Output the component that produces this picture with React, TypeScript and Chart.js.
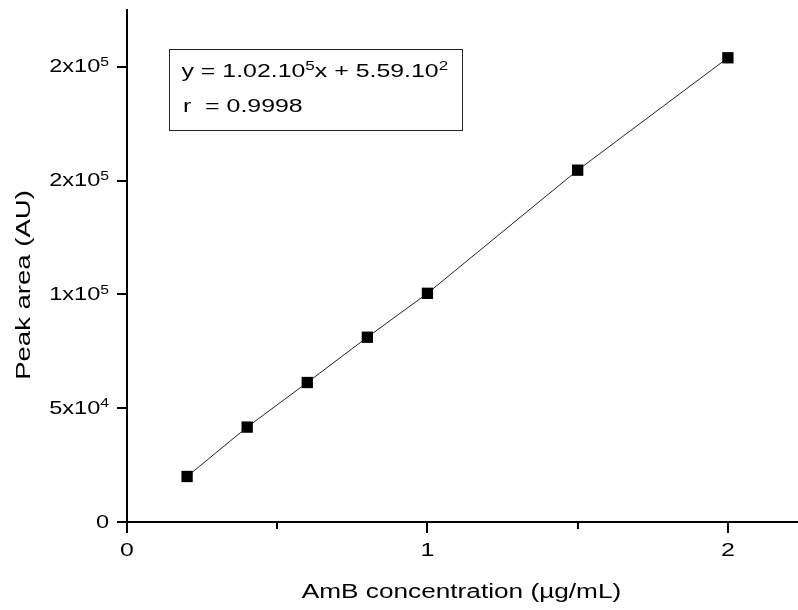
import React, { useEffect, useRef } from 'react';
import { Chart, registerables } from 'chart.js';

Chart.register(...registerables);

// ---- data ----
const concentrations = [0.2, 0.4, 0.6, 0.8, 1.0, 1.5, 2.0];
const peakAreas = [20000, 41700, 61300, 81200, 100500, 154600, 204000];

// ---- axes / labels ----
const xMin = 0;
const xMax = 2.23;
const yMin = 0;
const yMax = 225000;
const xTickValues = [0, 1, 2];
const xTickLabels = ['0', '1', '2'];
const xMinorTickValues = [0.5, 1.5];
const yTickValues = [0, 50000, 100000, 150000, 200000];
const yTickMantissas = ['0', '5x10', '1x10', '2x10', '2x10'];
const yTickExponents = ['', '4', '5', '5', '5'];
const xTitle = 'AmB concentration (µg/mL)';
const yTitle = 'Peak area (AU)';
const equationRuns: [string, boolean][] = [
  ['y = 1.02.10', false],
  ['5', true],
  ['x + 5.59.10', false],
  ['2', true],
];
const rRuns: [string, boolean][] = [['r  = 0.9998', false]];

const FONT = '"Liberation Sans", Arial, Helvetica, sans-serif';
const SX = 1.31; // horizontal stretch of the original glyphs
const INK = '#000';

function runsWidth(ctx: CanvasRenderingContext2D, runs: [string, boolean][], size: number, supSize: number) {
  let w = 0;
  for (const [t, sup] of runs) {
    ctx.font = `${sup ? supSize : size}px ${FONT}`;
    w += ctx.measureText(t).width * SX;
  }
  return w;
}

function drawRuns(ctx: CanvasRenderingContext2D, runs: [string, boolean][], x: number, y: number, size: number, supSize: number) {
  let cx = x;
  for (const [t, sup] of runs) {
    const fs = sup ? supSize : size;
    ctx.font = `${fs}px ${FONT}`;
    const w = ctx.measureText(t).width;
    const dy = sup ? -(size * 0.716 - supSize * 0.716) - 2 : 0;
    ctx.save();
    ctx.translate(cx, y + dy);
    ctx.scale(SX, 1);
    ctx.textAlign = 'left';
    ctx.textBaseline = 'alphabetic';
    ctx.fillStyle = INK;
    ctx.fillText(t, 0, 0);
    ctx.restore();
    cx += w * SX;
  }
}

function drawCentered(ctx: CanvasRenderingContext2D, text: string, x: number, y: number, size: number, rotate = 0) {
  ctx.save();
  ctx.translate(x, y);
  if (rotate) ctx.rotate(rotate);
  ctx.scale(SX, 1);
  ctx.font = `${size}px ${FONT}`;
  ctx.textAlign = 'center';
  ctx.textBaseline = 'alphabetic';
  ctx.fillStyle = INK;
  ctx.fillText(text, 0, 0);
  ctx.restore();
}

const textPlugin = {
  id: 'textPlugin',
  afterDraw(chart: any) {
    const ctx: CanvasRenderingContext2D = chart.ctx;
    const xs = chart.scales.x;
    const ys = chart.scales.y;
    const area = chart.chartArea;
    ctx.save();

    // minor x ticks
    ctx.strokeStyle = '#000';
    ctx.lineWidth = 2;
    ctx.beginPath();
    for (const v of xMinorTickValues) {
      const px = Math.round(xs.getPixelForValue(v));
      ctx.moveTo(px, area.bottom);
      ctx.lineTo(px, area.bottom + 7);
    }
    ctx.stroke();

    // x tick labels
    xTickValues.forEach((v, i) => {
      drawCentered(ctx, xTickLabels[i], xs.getPixelForValue(v), 556, 19);
    });

    // y tick labels
    yTickValues.forEach((v, i) => {
      const runs: [string, boolean][] = [[yTickMantissas[i], false]];
      if (yTickExponents[i]) runs.push([yTickExponents[i], true]);
      const w = runsWidth(ctx, runs, 18, 12);
      drawRuns(ctx, runs, 109 - w, ys.getPixelForValue(v) + 5.5, 18, 12);
    });

    // axis titles
    drawCentered(ctx, xTitle, 461.5, 598, 20);
    drawCentered(ctx, yTitle, 30, 285, 21, -Math.PI / 2);

    // annotation box
    ctx.strokeStyle = '#222';
    ctx.lineWidth = 1;
    ctx.strokeRect(169.5, 49.5, 293, 81);
    drawRuns(ctx, equationRuns, 181.5, 76.5, 19, 13);
    drawRuns(ctx, rRuns, 183, 111.5, 19, 13);

    ctx.restore();
  },
};

export default function App() {
  const ref = useRef<HTMLCanvasElement | null>(null);

  useEffect(() => {
    if (!ref.current) return;
    const chart = new Chart(ref.current, {
      type: 'scatter',
      data: {
        datasets: [
          {
            data: concentrations.map((c, i) => ({ x: c, y: peakAreas[i] })),
            showLine: true,
            borderColor: '#222',
            borderWidth: 1,
            backgroundColor: '#000',
            pointStyle: 'rect',
            pointRadius: 8,
            pointBorderWidth: 0,
            pointBackgroundColor: '#000',
          },
        ],
      },
      options: {
        animation: false,
        responsive: false,
        devicePixelRatio: 1,
        layout: { autoPadding: false, padding: { top: 10, right: 1, left: 0, bottom: 0 } },
        plugins: { legend: { display: false }, tooltip: { enabled: false } },
        scales: {
          x: {
            type: 'linear',
            min: xMin,
            max: xMax,
            ticks: { display: false },
            afterBuildTicks: (s: any) => {
              s.ticks = xTickValues.map((v) => ({ value: v }));
            },
            grid: {
              drawOnChartArea: false,
              drawTicks: true,
              tickLength: 11,
              color: '#000',
              lineWidth: 2,
            },
            border: { display: true, color: '#000', width: 2 },
            afterFit: (s: any) => {
              s.height = 88;
            },
          },
          y: {
            type: 'linear',
            min: yMin,
            max: yMax,
            ticks: { display: false },
            afterBuildTicks: (s: any) => {
              s.ticks = yTickValues.map((v) => ({ value: v }));
            },
            grid: {
              drawOnChartArea: false,
              drawTicks: true,
              tickLength: 10,
              color: '#000',
              lineWidth: 2,
            },
            border: { display: true, color: '#000', width: 2 },
            afterFit: (s: any) => {
              s.width = 127;
            },
          },
        },
      },
      plugins: [textPlugin],
    });
    return () => chart.destroy();
  }, []);

  return (
    <div style={{ position: 'absolute', left: 0, top: 0, width: 798, height: 610, background: '#fff' }}>
      <canvas ref={ref} width={798} height={610} style={{ width: 798, height: 610 }} />
    </div>
  );
}
